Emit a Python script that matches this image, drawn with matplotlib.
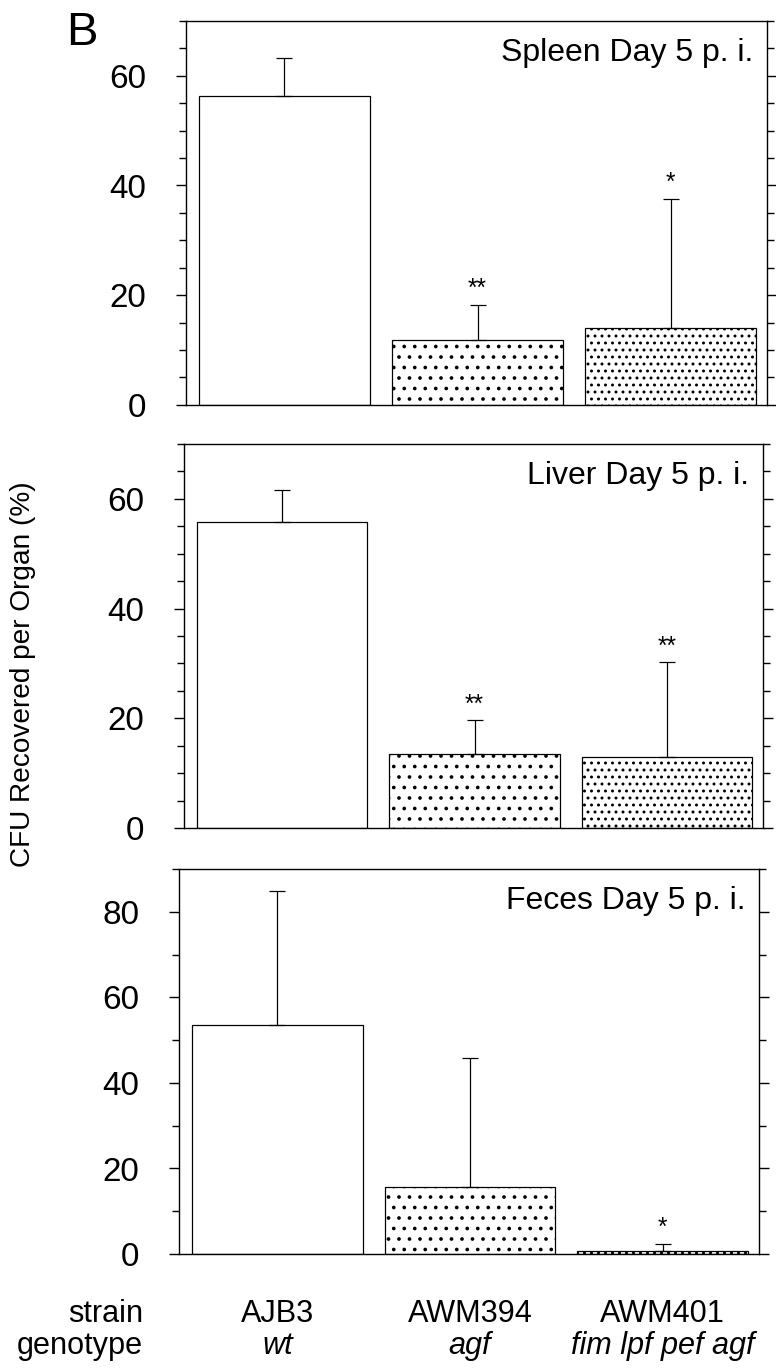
import matplotlib
matplotlib.use("Agg")
import matplotlib.pyplot as plt
from matplotlib.ticker import MultipleLocator
import numpy as np

plt.rcParams['font.family'] = ['Liberation Sans', 'DejaVu Sans']
plt.rcParams['hatch.linewidth'] = 0.9

# data
strains = ['AJB3', 'AWM394', 'AWM401']
genotypes = ['wt', 'agf', 'fim lpf pef agf']
organs = ['Spleen Day 5 p. i.', 'Liver Day 5 p. i.', 'Feces Day 5 p. i.']
spleen = [56.3, 11.8, 14.0]
spleen_err = [7.0, 6.4, 23.5]
liver = [55.8, 13.4, 13.0]
liver_err = [5.8, 6.2, 17.2]
feces = [53.5, 15.7, 0.8]
feces_err = [31.4, 30.1, 1.6]
stars = [['', '**', '*'], ['', '**', '**'], ['', '', '*']]
ymax = [70, 70, 90]
minor_step = [5, 5, 10]
hatches = ['', '..', '...']

DPI = 126
W, H = 776, 1372


def pt(px):
    return px * 72.0 / DPI


fig = plt.figure(figsize=((W + 0.1) / DPI, (H + 0.1) / DPI), dpi=DPI)

# panel boxes in pixels: left, right, top, bottom
boxes = [(186, 767, 21, 405), (184, 763, 444, 828), (179, 759, 869, 1254)]
values = [spleen, liver, feces]
errors = [spleen_err, liver_err, feces_err]

x = np.arange(len(strains))
axes = []
for i, (l, r, t, b) in enumerate(boxes):
    ax = fig.add_axes([l / W, 1 - b / H, (r - l) / W, (b - t) / H])
    axes.append(ax)
    ax.bar(x, values[i], width=0.885, color='white', edgecolor='black',
           linewidth=0.7, hatch=hatches, zorder=2)
    ax.errorbar(x, values[i], yerr=[np.zeros(3), errors[i]], fmt='none',
                ecolor='black', elinewidth=0.7, capsize=pt(8),
                capthick=0.7, zorder=3)
    for j in range(3):
        if stars[i][j]:
            ax.annotate(stars[i][j], xy=(x[j], values[i][j] + errors[i][j]),
                        xytext=(0, pt(16)), textcoords='offset points',
                        ha='center', va='center', fontsize=14)
    ax.set_xlim(-0.51, 2.5)
    ax.set_ylim(0, ymax[i])
    ax.yaxis.set_major_locator(MultipleLocator(20))
    ax.yaxis.set_minor_locator(MultipleLocator(minor_step[i]))
    ax.set_xticks([])
    ax.tick_params(axis='y', which='both', direction='out', left=True,
                   right=True, width=0.8, labelsize=19, pad=pt(30))
    ax.tick_params(axis='y', which='major', length=pt(10))
    ax.tick_params(axis='y', which='minor', length=pt(7))
    for s in ax.spines.values():
        s.set_linewidth(0.8)
    ax.annotate(organs[i], xy=(1, 1), xycoords='axes fraction',
                xytext=(-pt(14), -pt(40)), textcoords='offset points',
                ha='right', va='baseline', fontsize=18.3)

fig.text(66 / W, 1 - 11 / H, 'B', fontsize=27, ha='left', va='top')
fig.text(23 / W, 1 - 674 / H, 'CFU Recovered per Organ (%)', rotation=90,
         ha='center', va='center', fontsize=16)

# strain / genotype labels under the bottom panel
bottom_ax = axes[2]
trans = matplotlib.transforms.blended_transform_factory(bottom_ax.transData,
                                                        fig.transFigure)
fig.text(143 / W, 1 - 1322 / H, 'strain', ha='right', va='baseline', fontsize=17.5)
fig.text(143 / W, 1 - 1354 / H, 'genotype', ha='right', va='baseline', fontsize=17.5)
for j in range(3):
    bottom_ax.text(x[j], 1 - 1322 / H, strains[j], transform=trans,
                   ha='center', va='baseline', fontsize=17.5)
    bottom_ax.text(x[j], 1 - 1354 / H, genotypes[j], transform=trans,
                   ha='center', va='baseline', fontsize=17.5, style='italic')

fig.savefig('out.png', dpi=DPI, facecolor='white')
